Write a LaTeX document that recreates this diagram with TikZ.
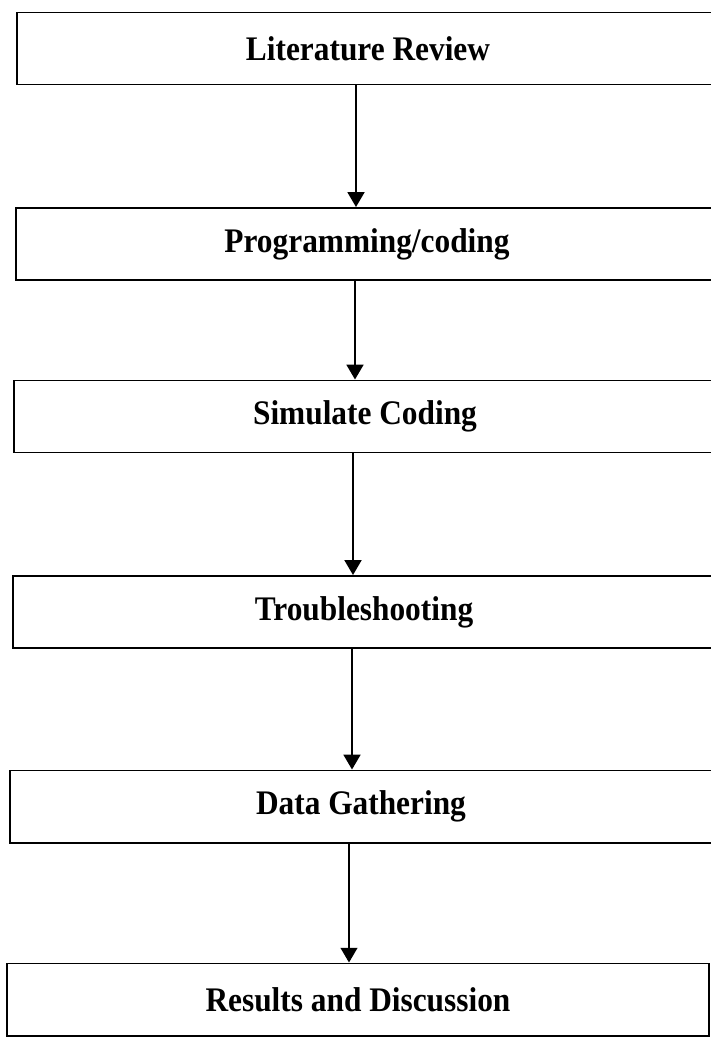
\documentclass[tikz,border=0pt]{standalone}
\usepackage{fontspec}
\setmainfont{Liberation Serif}[FakeStretch=0.91]
\usetikzlibrary{arrows.meta}

\begin{document}
\begin{tikzpicture}[
    x=.025cm,y=-.025cm,
    font=\bfseries\fontsize{24.5}{29}\selectfont,
    stage/.style={draw,line width=1.4pt,minimum width=17.55cm,
        minimum height=1.8cm,inner sep=0pt},
    flow/.style={line width=1.2pt,-{Triangle[length=10.5pt,width=12pt]}}
]
    \useasboundingbox (0,0) rectangle (710,1037);

    % Stages, top to bottom; the boxes run past the right edge.
    \node[stage] (lit)     at (368,48.5)  {Literature Review};
    \node[stage] (prog)    at (367,244)   {Programming/coding};
    \node[stage] (sim)     at (365,416.5) {Simulate Coding};
    \node[stage] (trouble) at (364,612)   {Troubleshooting};
    \node[stage] (data)    at (361,806.5) {Data Gathering};
    \node[stage] (results) at (358,999.5) {Results and Discussion};

    % Arrows sit a little left of the box centres.
    \foreach \from/\to in {lit/prog,prog/sim,sim/trouble,trouble/data,data/results}
        \draw[flow] ([xshift=-.3cm]\from.south) -- ([xshift=-.3cm]\from.south |- \to.north);
\end{tikzpicture}
\end{document}
